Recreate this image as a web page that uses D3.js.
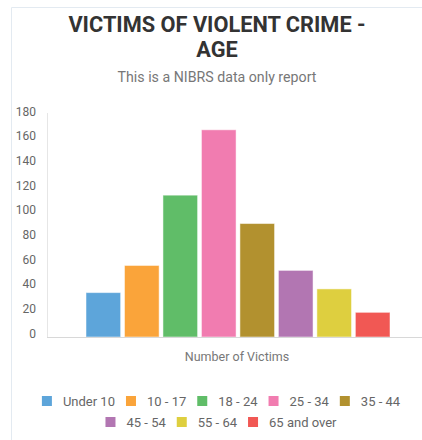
<!DOCTYPE html>
<html>
<head>
<meta charset="utf-8">
<script src="https://cdn.jsdelivr.net/npm/d3@7"></script>
<style>
	body { margin: 0; background: #fff; font-family: Roboto, "Noto Sans", sans-serif; }
	svg { display: block; }
</style>
</head>
<body>
<div id="chart"></div>
<script>

// chart data
var categories = ["Number of Victims"];
var seriesNames = ["Under 10", "10 - 17", "18 - 24", "25 - 34", "35 - 44", "45 - 54", "55 - 64", "65 and over"];
var seriesValues = [36, 58, 115, 168, 92, 54, 39, 20];
var seriesColors = ["#5da5da", "#faa43a", "#60bd68", "#f17cb0", "#b2912f", "#b276b2", "#decf3f", "#f15854"];
var yTicks = [0, 20, 40, 60, 80, 100, 120, 140, 160, 180];

var width = 422, height = 440;

var svg = d3.select("#chart").append("svg")
	.attr("width", width).attr("height", height);

// card frame
svg.append("path")
	.attr("d", "M11.5," + height + "V7.5H" + width)
	.attr("fill", "none")
	.attr("stroke", "#e3eaf1");

// titles
var title = svg.append("text")
	.attr("text-anchor", "middle")
	.attr("fill", "#333")
	.style("font-size", "21.75px")
	.style("font-weight", "bold");
title.append("tspan").attr("x", 217).attr("y", 32).text("VICTIMS OF VIOLENT CRIME -");
title.append("tspan").attr("x", 217).attr("y", 57).text("AGE");

svg.append("text")
	.attr("x", 217).attr("y", 81.5)
	.attr("text-anchor", "middle")
	.attr("fill", "#777")
	.style("font-size", "14.2px")
	.text("This is a NIBRS data only report");

// plot area
var plot = { left: 47, right: 427, top: 115, bottom: 337 };

var x1 = d3.scaleBand()
	.domain(seriesNames)
	.range([86, 390])
	.paddingInner(0.1).paddingOuter(0);

var y = d3.scaleLinear()
	.domain([0, 180])
	.range([plot.bottom, plot.top]);

// y axis
var yAxis = d3.axisLeft(y)
	.tickValues(yTicks)
	.tickSize(0)
	.tickPadding(11);

var gY = svg.append("g")
	.attr("class", "y axis")
	.attr("transform", "translate(" + plot.left + ",0)")
	.call(yAxis);
gY.select(".domain").remove();
gY.selectAll("text")
	.attr("dy", "0.02em")
	.attr("fill", "#666")
	.style("font-size", "12px")
	.style("font-family", "Roboto, sans-serif");

svg.append("line")
	.attr("x1", plot.left + 0.5).attr("x2", plot.left + 0.5)
	.attr("y1", 113).attr("y2", plot.bottom)
	.attr("stroke", "#e6e6e6");

// bars, one per series
svg.selectAll(".bar")
	.data(seriesValues)
	.enter().append("rect")
	.attr("class", "bar")
	.attr("x", function(d, i){ return x1(seriesNames[i]); })
	.attr("width", x1.bandwidth())
	.attr("y", function(d){ return y(d); })
	.attr("height", function(d){ return y(0) - y(d); })
	.attr("fill", function(d, i){ return seriesColors[i]; })
	.attr("stroke", "rgba(255,255,255,0.5)")
	.attr("stroke-width", 1);

// x axis baseline + category label
svg.append("line")
	.attr("x1", plot.left).attr("x2", width)
	.attr("y1", plot.bottom + 0.5).attr("y2", plot.bottom + 0.5)
	.attr("stroke", "#d8d8d8");

svg.append("text")
	.attr("x", 237).attr("y", 360.5)
	.attr("text-anchor", "middle")
	.attr("fill", "#777")
	.style("font-size", "12.5px")
	.text(categories[0]);

// legend, wrapped in rows and centred
var legend = svg.append("g").attr("class", "legend");
var items = seriesNames.map(function(name, i){
	var g = legend.append("g");
	g.append("rect")
		.attr("width", 10).attr("height", 10)
		.attr("y", -10)
		.attr("fill", seriesColors[i]);
	var t = g.append("text")
		.attr("x", 21)
		.attr("fill", "#666")
		.style("font-size", "13px")
		.text(name);
	return { g: g, w: 21 + t.node().getComputedTextLength() };
});

var gap = 11, maxRow = 370, rows = [[]], rowW = [0];
items.forEach(function(it){
	var r = rows.length - 1;
	var add = (rows[r].length ? gap : 0) + it.w;
	if (rowW[r] + add > maxRow && rows[r].length) {
		rows.push([it]); rowW.push(it.w);
	} else {
		rows[r].push(it); rowW[r] += add;
	}
});
rows.forEach(function(row, r){
	var xs = 221 - rowW[r] / 2;
	row.forEach(function(it){
		it.g.attr("transform", "translate(" + xs + "," + (406 + r * 21) + ")");
		xs += it.w + gap;
	});
});
</script>
</body>
</html>
